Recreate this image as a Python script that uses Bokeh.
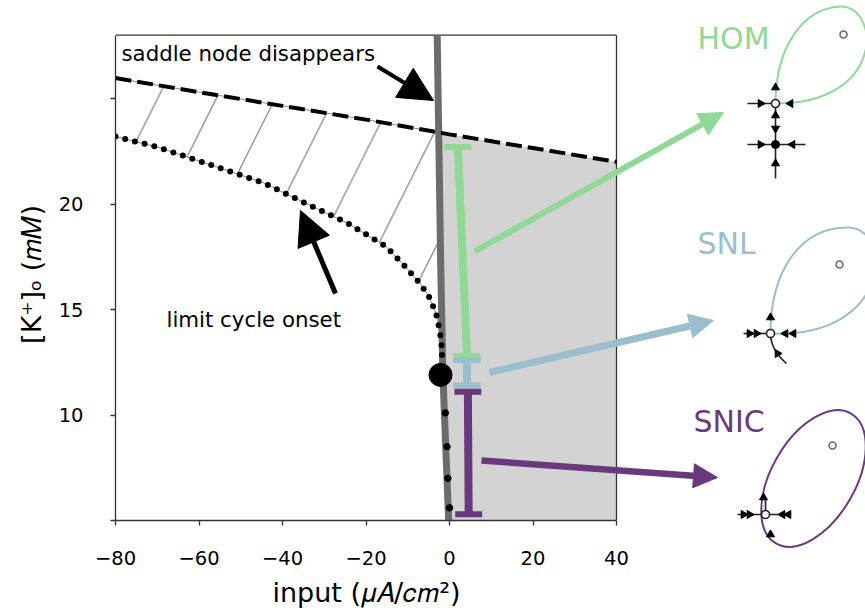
import numpy as np
from bokeh.plotting import figure
from bokeh.layouts import column
from bokeh.models import Range1d, Arrow, NormalHead, Label, FixedTicker
from bokeh.embed import file_html
from bokeh.resources import INLINE

FONT = "DejaVu Sans"
GREEN = "#90d896"
BLUE = "#9abece"
PURPLE = "#6a397d"
FOLD_GREY = "#6c6c6c"
REGION_GREY = "#d3d3d3"
AXIS_C = "#333333"

# ---------------- data (input current I, extracellular K) ----------------
# thick grey curve
fold_K = [28.0, 23.5, 21.0, 17.0, 14.0, 12.0, 10.0, 8.0, 6.0, 5.0]
fold_I = [-2.95, -2.6, -2.4, -2.1, -1.8, -1.6, -1.2, -0.8, -0.4, -0.2]

# dashed line: saddle node disappears
sd_I = [-80, -60, -40, -20, 0, 20, 40]
sd_K = [25.97, 25.3, 24.65, 24.0, 23.3, 22.65, 22.0]

# dotted curve: limit cycle onset
lc_I = [-80, -70, -56.4, -44.5, -34.1, -24.5, -15.3, -10.9, -6.9, -4.9, -3.2, -2.3, -1.9, -1.8]
lc_K = [23.2, 22.7, 21.8, 21.0, 20.0, 19.1, 18.0, 17.1, 16.2, 15.6, 14.8, 13.95, 13.3, 12.8]
lc_low_I = [-1.0, -0.6, -0.4, 0.0]
lc_low_K = [10.1, 8.5, 7.0, 5.6]

# codimension-two point
bt_I = [-2.15]
bt_K = [11.9]

# K ranges of the three onset types
rng_names = ["HOM", "SNL", "SNIC"]
rng_colors = [GREEN, BLUE, PURPLE]
rng_I_top = [2.0, 4.2, 4.4]
rng_I_bot = [4.2, 4.2, 4.6]
rng_K_top = [22.7, 12.6, 11.1]
rng_K_bot = [12.8, 11.4, 5.3]

x_ticks = [-80, -60, -40, -20, 0, 20, 40]
y_ticks = [5, 10, 15, 20, 25]
y_tick_labels = ["", "10", "15", "20", ""]
x_label = "input (\U0001D707\U0001D434/\U0001D450\U0001D45A\u00b2)"
y_label = "[K\u207a]\u2092 (\U0001D45A\U0001D440)"

X_MIN, X_MAX = -80, 40
Y_MIN, Y_MAX = 5, 28

# ---------------- layout calibration (pixels) ----------------
W, H = 865, 610
LEFT = 115                 # x = X_MIN
AX_RIGHT = 616             # x = X_MAX
TOP_K = 34.7               # y = Y_MAX
BOT_K = 520                # y = Y_MIN
FRAME_TOP = 28
px_i = (AX_RIGHT - LEFT) / (X_MAX - X_MIN)
px_k = (BOT_K - TOP_K) / (Y_MAX - Y_MIN)
x_end = X_MIN + (W - LEFT) / px_i
y_end = Y_MIN + (BOT_K - FRAME_TOP) / px_k

# ---------------- main axes ----------------
p = figure(frame_width=W - LEFT, frame_height=BOT_K - FRAME_TOP,
           x_range=Range1d(X_MIN, x_end), y_range=Range1d(Y_MIN, y_end),
           output_backend="svg", toolbar_location=None,
           min_border_left=LEFT, min_border_right=0, min_border_top=FRAME_TOP,
           min_border_bottom=H - BOT_K, outline_line_color=None,
           background_fill_color="white", border_fill_color="white")
p.grid.visible = False

xa = p.xaxis[0]
xa.bounds = (X_MIN, X_MAX)
xa.ticker = FixedTicker(ticks=x_ticks)
xa.major_label_overrides = {t: (("\u2212%d" % abs(t)) if t < 0 else str(t)) for t in x_ticks}
xa.major_label_standoff = 25

ya = p.yaxis[0]
ya.bounds = (Y_MIN, Y_MAX)
ya.ticker = FixedTicker(ticks=y_ticks)
ya.major_label_overrides = dict(zip(y_ticks, y_tick_labels))
ya.axis_label = y_label
ya.major_label_standoff = 27
ya.axis_label_standoff = 9

for ax in (xa, ya):
    ax.minor_tick_line_color = None
    ax.major_tick_out = 5
    ax.major_tick_in = 0
    ax.axis_line_color = AXIS_C
    ax.axis_line_width = 1.3
    ax.major_tick_line_color = AXIS_C
    ax.major_tick_line_width = 1.3
    ax.major_label_text_font = FONT
    ax.major_label_text_font_size = "19.5px"
    ax.major_label_text_color = "black"
    ax.axis_label_text_font = FONT
    ax.axis_label_text_font_size = "27px"
    ax.axis_label_text_font_style = "normal"
    ax.axis_label_text_color = "black"

# ---------------- derived regions ----------------
fK = np.array(fold_K[::-1])
fI = np.array(fold_I[::-1])
Ic = float(np.interp(24.0, fK, fI))
for _ in range(30):
    Kc = float(np.interp(Ic, sd_I, sd_K))
    Ic = float(np.interp(Kc, fK, fI))

sdI = np.array(sd_I, float)
sdK = np.array(sd_K, float)
below = fK < Kc
reg_x = list(fI[below]) + [Ic] + list(sdI[sdI > Ic]) + [X_MAX]
reg_y = list(fK[below]) + [Kc] + list(sdK[sdI > Ic]) + [Y_MIN]
p.patch(reg_x, reg_y, fill_color=REGION_GREY, line_color=None)

left = sdI < Ic
hat_x = list(sdI[left]) + [Ic] + lc_I[::-1]
hat_y = list(sdK[left]) + [Kc] + lc_K[::-1]
p.patch(hat_x, hat_y, fill_color=None, hatch_pattern="/", hatch_color="#7a7a7a",
        hatch_weight=1.2, hatch_scale=117.5, line_color="#8a8a8a", line_width=1)

# box: top and right spines
p.line([X_MIN, X_MAX], [Y_MAX, Y_MAX], line_color=AXIS_C, line_width=1.3)
p.line([X_MAX, X_MAX], [Y_MIN, Y_MAX], line_color=AXIS_C, line_width=1.3)

# ---------------- curves ----------------
p.line(fold_I, fold_K, line_color=FOLD_GREY, line_width=7)
p.line(sd_I, sd_K, line_color="black", line_width=4, line_dash="16 6")
p.line(lc_I, lc_K, line_color="black", line_width=6, line_dash="0 10", line_cap="round")
p.scatter(lc_low_I, lc_low_K, size=6.5, color="black")
p.scatter(bt_I, bt_K, size=23, color="black")

for c, it, ib, kt, kb in zip(rng_colors, rng_I_top, rng_I_bot, rng_K_top, rng_K_bot):
    p.segment(x0=[it], y0=[kt], x1=[ib], y1=[kb], line_color=c, line_width=8)
    p.scatter([it, ib], [kt, kb], marker="dash", size=27, line_width=6, line_color=c)

# ---------------- transparent overlay (pixel coordinates) ----------------
q = figure(width=W, height=H, x_range=Range1d(LEFT, W), y_range=Range1d(H, 0),
           x_axis_type=None, y_axis_type=None, toolbar_location=None,
           output_backend="svg", min_border_left=LEFT, min_border_right=0,
           min_border_top=0, min_border_bottom=0, outline_line_color=None,
           background_fill_color=None, border_fill_color=None, margin=(-H, 0, 0, 0))
q.grid.visible = False

# label y values give the bottom of each text box
TXT = dict(text_font=FONT)
q.add_layout(Label(x=366, y=607, text=x_label, text_font_size="27px",
                   text_color="black", text_align="center", **TXT))
q.add_layout(Label(x=121, y=65, text="saddle node disappears",
                   text_font_size="21.3px", text_color="black", **TXT))
q.add_layout(Label(x=166, y=331, text="limit cycle onset",
                   text_font_size="21.3px", text_color="black", **TXT))
q.add_layout(Arrow(x_start=377, y_start=66, x_end=433, y_end=100, line_width=4,
                   line_color="black",
                   end=NormalHead(size=34, fill_color="black", line_color="black")))
q.add_layout(Arrow(x_start=335, y_start=293, x_end=300, y_end=210, line_width=5,
                   line_color="black",
                   end=NormalHead(size=34, fill_color="black", line_color="black")))

arrows = [((474, 251), (723, 112), GREEN, 6), ((489, 372), (713, 320), BLUE, 7),
          ((481, 460), (717, 477), PURPLE, 6.5)]
for (x0, y0), (x1, y1), c, w in arrows:
    q.add_layout(Arrow(x_start=x0, y_start=y0, x_end=x1, y_end=y1, line_width=w,
                       line_color=c, end=NormalHead(size=24, fill_color=c, line_color=c)))

labels = [("HOM", 697, 55, GREEN), ("SNL", 697, 260, BLUE), ("SNIC", 693, 438, PURPLE)]
for txt, lx, ly, c in labels:
    q.add_layout(Label(x=lx, y=ly, text=txt, text_font_size="30px", text_color=c, **TXT))

# HOM loop
q.bezier(x0=[775, 840], y0=[103, 6], x1=[840, 775], y1=[6, 103],
         cx0=[775, 880], cy0=[50, 6], cx1=[800, 885], cy1=[8, 103],
         line_color=GREEN, line_width=2)
# SNL loop
q.bezier(x0=[770, 847], y0=[333, 227], x1=[847, 770], y1=[227, 333],
         cx0=[770, 893], cy0=[270, 227], cx1=[800, 892], cy1=[227, 338],
         line_color=BLUE, line_width=2)
# SNIC loop
q.ellipse(x=[813], y=[478], width=[150], height=[84], angle=[np.deg2rad(60)],
          fill_color=None, line_color=PURPLE, line_width=2)

# black manifolds
q.segment(x0=[747, 775, 747, 743, 737, 765], y0=[103, 103, 144, 333, 514, 497],
          x1=[775, 775, 805, 770, 790, 765], y1=[103, 178, 144, 333, 514, 514],
          line_color="#222222", line_width=1.6)
q.bezier(x0=[770], y0=[333], x1=[786], y1=[363], cx0=[770], cy0=[346], cx1=[778], cy1=[356],
         line_color="#222222", line_width=1.6)

R, L, U, D = -np.pi / 2, np.pi / 2, 0.0, np.pi
hx = [760, 790, 775, 775, 775, 760, 792, 775, 749, 756, 785, 793, 770, 777,
      743, 749, 782, 788, 763, 770]
hy = [103, 103, 87, 115, 128, 144, 144, 163, 333, 333, 333, 333, 317, 353,
      514, 514, 514, 514, 497, 534]
ha = [R, L, U, U, D, R, L, U, R, R, L, L, U, np.pi / 6,
      R, R, L, L, U, U]
q.scatter(hx, hy, marker="triangle", size=8, angle=ha, fill_color="black",
          line_color="black")

# fixed points
q.scatter([775, 770, 765], [103, 333, 514], size=8, fill_color="white",
          line_color="#222222", line_width=1.6)
q.scatter([775], [144], size=8, fill_color="black", line_color="black")
q.scatter([843, 839, 832], [34, 264, 445], size=7, fill_color="white",
          line_color="#6a6a6a", line_width=1.6)

page = column(p, q, spacing=0)
open("out.html", "w").write(file_html(page, INLINE))
